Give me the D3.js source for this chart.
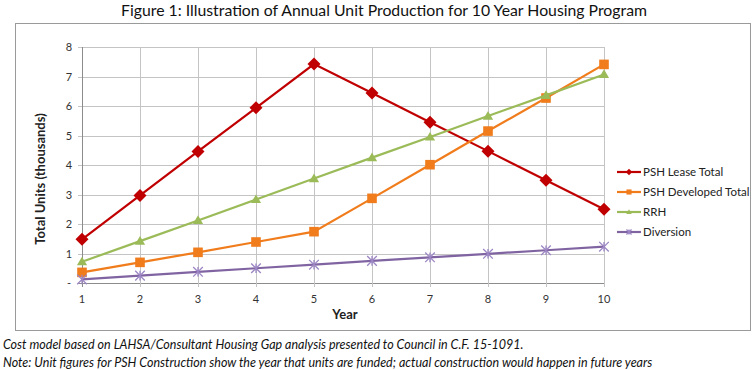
<!DOCTYPE html>
<html>
<head>
<meta charset="utf-8">
<script src="https://cdn.jsdelivr.net/npm/d3@7"></script>
<style>
  body { margin: 0; background: #fff; }
  svg { display: block; }
</style>
</head>
<body>
<div id="chart"></div>
<script>
var width = 754
var height = 370

// data
var years = [1, 2, 3, 4, 5, 6, 7, 8, 9, 10]
var pshLease = [1.48, 2.97, 4.46, 5.94, 7.42, 6.44, 5.45, 4.47, 3.48, 2.5]
var pshDeveloped = [0.36, 0.7, 1.04, 1.39, 1.74, 2.87, 4.01, 5.15, 6.27, 7.41]
var rrh = [0.72, 1.42, 2.12, 2.83, 3.54, 4.25, 4.95, 5.66, 6.36, 7.07]
var diversion = [0.12, 0.25, 0.38, 0.5, 0.62, 0.75, 0.87, 0.99, 1.11, 1.23]
var yTicks = [0, 1, 2, 3, 4, 5, 6, 7, 8]
var seriesNames = ['PSH Lease Total', 'PSH Developed Total', 'RRH', 'Diversion']

var series = [
  {name: seriesNames[0], values: pshLease, color: '#C00000', marker: 'diamond'},
  {name: seriesNames[1], values: pshDeveloped, color: '#F07C1C', marker: 'square'},
  {name: seriesNames[2], values: rrh, color: '#9BBB59', marker: 'triangle'},
  {name: seriesNames[3], values: diversion, color: '#8064A2', marker: 'star'}
]

var svg = d3.select('#chart').append('svg')
  .attr('width', width)
  .attr('height', height)

var font = 'Lato, "Open Sans", sans-serif'

// title
svg.append('text')
  .attr('x', 384).attr('y', 16)
  .attr('text-anchor', 'middle')
  .style('font-family', font)
  .style('font-size', '15.8px')
  .attr('fill', '#111')
  .text('Figure 1: Illustration of Annual Unit Production for 10 Year Housing Program')

// outer chart box
svg.append('rect')
  .attr('x', 15.5).attr('y', 23.5)
  .attr('width', 735).attr('height', 307)
  .attr('fill', 'none')
  .attr('stroke', '#9a9a9a')
  .attr('stroke-width', 1)

var x = d3.scaleLinear().domain([1, 10]).range([82, 604])
var y = d3.scaleLinear().domain([0, 8]).range([283, 47])

var grid = svg.append('g')
grid.selectAll('.hgrid').data(yTicks).enter().append('line')
  .attr('class', 'hgrid')
  .attr('x1', x(1) - 4).attr('x2', x(10))
  .attr('y1', function(d){return Math.round(y(d)) + 0.5})
  .attr('y2', function(d){return Math.round(y(d)) + 0.5})
  .attr('stroke', function(d){return d === 0 ? '#8c8c8c' : '#c4c4c4'})
grid.selectAll('.vgrid').data(years).enter().append('line')
  .attr('class', 'vgrid')
  .attr('x1', function(d){return Math.round(x(d)) + 0.5})
  .attr('x2', function(d){return Math.round(x(d)) + 0.5})
  .attr('y1', y(8)).attr('y2', y(0) + 4)
  .attr('stroke', function(d){return d === 1 ? '#8c8c8c' : '#c4c4c4'})

// tick labels
svg.selectAll('.ylab').data(yTicks).enter().append('text')
  .attr('x', 69).attr('y', function(d){return y(d) + 4})
  .attr('text-anchor', 'middle')
  .style('font-family', font).style('font-size', '11px')
  .attr('fill', '#333')
  .text(function(d){return d === 0 ? '-' : d})
svg.selectAll('.xlab').data(years).enter().append('text')
  .attr('x', function(d){return x(d)}).attr('y', 303)
  .attr('text-anchor', 'middle')
  .style('font-family', font).style('font-size', '11px')
  .attr('fill', '#333')
  .text(function(d){return d})

// axis titles
svg.append('text')
  .attr('x', 345).attr('y', 319)
  .attr('text-anchor', 'middle')
  .style('font-family', font).style('font-size', '13px').style('font-weight', 'bold')
  .attr('fill', '#222')
  .text('Year')
svg.append('text')
  .attr('transform', 'translate(45,179) rotate(-90)')
  .attr('text-anchor', 'middle')
  .style('font-family', font).style('font-size', '13px').style('font-weight', 'bold')
  .attr('fill', '#222')
  .text('Total Units (thousands)')

function drawMarker(g, type, color, s) {
  if (type === 'diamond') {
    g.append('path').attr('d', 'M0,' + (-s) + 'L' + s + ',0L0,' + s + 'L' + (-s) + ',0Z')
      .attr('fill', color)
  } else if (type === 'square') {
    g.append('rect').attr('x', -s * 0.8).attr('y', -s * 0.8)
      .attr('width', s * 1.6).attr('height', s * 1.6).attr('fill', color)
  } else if (type === 'triangle') {
    g.append('path').attr('d', 'M0,' + (-s * 0.85) + 'L' + s * 0.85 + ',' + s * 0.6 + 'L' + (-s * 0.85) + ',' + s * 0.6 + 'Z')
      .attr('fill', color)
  } else {
    var a = s * 0.8
    g.append('path')
      .attr('d', 'M' + (-a) + ',' + (-a) + 'L' + a + ',' + a + 'M' + a + ',' + (-a) + 'L' + (-a) + ',' + a + 'M0,' + (-a) + 'L0,' + a)
      .attr('stroke', '#9c86c4').attr('stroke-width', 1.3).attr('fill', 'none')
  }
}

var line = d3.line()
  .x(function(d){return x(d[0])})
  .y(function(d){return y(d[1])})

series.forEach(function(s) {
  var pts = years.map(function(yr, i){return [yr, s.values[i]]})
  svg.append('path')
    .datum(pts)
    .attr('d', line)
    .attr('fill', 'none')
    .attr('stroke', s.color)
    .attr('stroke-width', 2.2)
  pts.forEach(function(p) {
    var g = svg.append('g').attr('transform', 'translate(' + x(p[0]) + ',' + y(p[1]) + ')')
    drawMarker(g, s.marker, s.color, s.marker === 'diamond' ? 6.5 : 6)
  })
})

// legend
var legend = svg.append('g').attr('transform', 'translate(617,172)')
series.forEach(function(s, i) {
  var row = legend.append('g').attr('transform', 'translate(0,' + i * 20 + ')')
  row.append('line').attr('x1', 0).attr('x2', 24).attr('y1', 0).attr('y2', 0)
    .attr('stroke', s.color).attr('stroke-width', 2.2)
  var m = row.append('g').attr('transform', 'translate(12,0)')
  drawMarker(m, s.marker, s.color, 3.2)
  row.append('text')
    .attr('x', 26).attr('y', 4)
    .style('font-family', font).style('font-size', '11.5px')
    .attr('fill', '#222')
    .text(s.name)
})

// footnotes
var notes = [
  'Cost model based on LAHSA/Consultant Housing Gap analysis presented to Council in C.F. 15-1091.',
  'Note: Unit figures for PSH Construction show the year that units are funded; actual construction would happen in future years'
]
svg.selectAll('.note').data(notes).enter().append('text')
  .attr('x', 3).attr('y', function(d, i){return 349 + i * 18})
  .style('font-family', font).style('font-size', '12.5px').style('font-style', 'italic')
  .attr('fill', '#111')
  .text(function(d){return d})
</script>
</body>
</html>
